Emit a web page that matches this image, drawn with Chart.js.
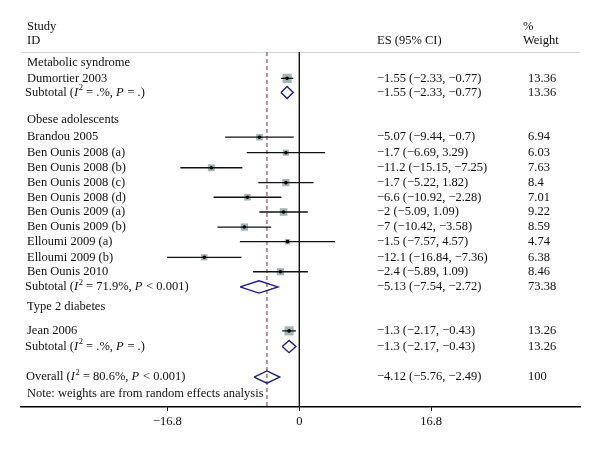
<!DOCTYPE html>
<html>
<head>
<meta charset="utf-8">
<script src="https://cdn.jsdelivr.net/npm/chart.js@4.4.1/dist/chart.umd.min.js"></script>
<style>
  html, body { margin: 0; padding: 0; background: #ffffff; }
  #wrap { width: 600px; height: 457px; }
</style>
</head>
<body>
<div id="wrap"><canvas id="c" width="600" height="457"></canvas></div>
<script>
// ---------- DATA ----------
const studyLabels = ["Dumortier 2003", "Brandou 2005", "Ben Ounis 2008 (a)", "Ben Ounis 2008 (b)",
  "Ben Ounis 2008 (c)", "Ben Ounis 2008 (d)", "Ben Ounis 2009 (a)", "Ben Ounis 2009 (b)",
  "Elloumi 2009 (a)", "Elloumi 2009 (b)", "Ben Ounis 2010", "Jean 2006"];
const studyES = [-1.55, -5.07, -1.7, -11.2, -1.7, -6.6, -2, -7, -1.5, -12.1, -2.4, -1.3];
const studyLo = [-2.33, -9.44, -6.69, -15.15, -5.22, -10.92, -5.09, -10.42, -7.57, -16.84, -5.89, -2.17];
const studyHi = [-0.77, -0.7, 3.29, -7.25, 1.82, -2.28, 1.09, -3.58, 4.57, -7.36, 1.09, -0.43];
const studyWeight = [13.36, 6.94, 6.03, 7.63, 8.4, 7.01, 9.22, 8.59, 4.74, 6.38, 8.46, 13.26];

const groupNames = ["Metabolic syndrome", "Obese adolescents", "Type 2 diabetes"];
const groupES = [-1.55, -5.13, -1.3];
const groupLo = [-2.33, -7.54, -2.17];
const groupHi = [-0.77, -2.72, -0.43];
const groupWeight = [13.36, 73.38, 13.26];
const groupI2 = [".", "71.9", "."];
const groupP = ["= .", "< 0.001", "= ."];

const overallES = -4.12, overallLo = -5.76, overallHi = -2.49, overallWeight = 100;
const overallI2 = "80.6", overallP = "< 0.001";
const noteText = "Note: weights are from random effects analysis";
const xTicks = [-16.8, 0, 16.8];

// ---------- LAYOUT (row positions, not data) ----------
const studyRows = [1.05, 5.0, 6.04, 7.05, 8.05, 9.03, 10.02, 11.03, 12.01, 13.06, 14.03, 18.0];
const groupHeaderRows = [0, 3.8, 16.4];
const groupSubRows = [2.0, 15.05, 19.05];
const overallRow = 21.1, noteRow = 22.2;
const yMin = -0.718, yMax = 23.107;
const xMin = -35.45, xMax = 35.76;
const DIA_H = 0.41;

const FONT = '12.5px "Liberation Serif", "DejaVu Serif", serif';
const FONT_I = 'italic 12.5px "Liberation Serif", "DejaVu Serif", serif';
const FONT_SUP = '8.5px "Liberation Serif", "DejaVu Serif", serif';
const TXT = '#111111';
const BOX = '#a2b4b4';
const NAVY = '#1e1e7e';
const DASH = '#a3566f';

const fmt = v => String(v).replace('-', '\u2212');
const esText = (e, l, h) => `${fmt(e)} (${fmt(l)}, ${fmt(h)})`;

// ---------- DATASETS ----------
const datasets = [];
datasets.push({ type: 'line', data: [{x: 0, y: yMin}, {x: 0, y: yMax}], borderColor: '#000', borderWidth: 1.3,
  pointRadius: 0, order: 5 });
datasets.push({ type: 'line', data: [{x: overallES, y: yMin}, {x: overallES, y: yMax}], borderColor: DASH,
  borderWidth: 1.3, borderDash: [4, 3], pointRadius: 0, order: 5 });
datasets.push({ type: 'line', data: [{x: xMin, y: yMin}, {x: xMax, y: yMin}], borderColor: '#bccaca',
  borderWidth: 1.5, pointRadius: 0, order: 5 });
// weight boxes (area proportional to weight)
datasets.push({ type: 'scatter', order: 3,
  data: studyES.map((v, i) => ({x: v, y: studyRows[i]})),
  pointStyle: 'rect', backgroundColor: BOX, borderColor: BOX, borderWidth: 0,
  pointRadius: c => 2.5 * Math.sqrt(studyWeight[c.dataIndex]) / Math.SQRT2 });
// CI lines
studyES.forEach((v, i) => {
  datasets.push({ type: 'line', order: 2, data: [{x: studyLo[i], y: studyRows[i]}, {x: studyHi[i], y: studyRows[i]}],
    borderColor: '#111', borderWidth: 1.3, pointRadius: 0 });
});
// centre dots
datasets.push({ type: 'scatter', order: 1,
  data: studyES.map((v, i) => ({x: v, y: studyRows[i]})),
  pointStyle: 'circle', backgroundColor: '#000', borderWidth: 0, pointRadius: 1.8 });
// diamonds
const diamond = (e, l, h, r) => ({ type: 'line', order: 1,
  data: [{x: l, y: r}, {x: e, y: r - DIA_H}, {x: h, y: r}, {x: e, y: r + DIA_H}, {x: l, y: r}],
  borderColor: NAVY, borderWidth: 1.4, pointRadius: 0, fill: false, tension: 0 });
groupES.forEach((e, i) => datasets.push(diamond(e, groupLo[i], groupHi[i], groupSubRows[i])));
datasets.push(diamond(overallES, overallLo, overallHi, overallRow));

// ---------- TEXT PLUGIN ----------
function drawRich(ctx, x, y, segs) {
  let cx = x;
  segs.forEach(s => {
    if (s.sup) {
      ctx.font = FONT_SUP;
      ctx.fillText(s.t, cx, y - 4.5);
    } else {
      ctx.font = s.it ? FONT_I : FONT;
      ctx.fillText(s.t, cx, y);
    }
    cx += ctx.measureText(s.t).width + (s.it ? 0.6 : 0);
  });
}
const hetSegs = (lead, i2, p) => [
  {t: lead + ' ('}, {t: 'I', it: true}, {t: '2', sup: true}, {t: ' = ' + i2 + '%, '},
  {t: 'P', it: true}, {t: ' ' + p + ')'}];

const textPlugin = {
  id: 'forestText',
  afterDraw(chart) {
    const ctx = chart.ctx;
    const py = r => chart.scales.y.getPixelForValue(r);
    ctx.save();
    ctx.fillStyle = TXT;
    ctx.textBaseline = 'middle';
    ctx.textAlign = 'left';
    ctx.font = FONT;
    ctx.fillText('Study', 27, 27);
    ctx.fillText('ID', 27, 41);
    ctx.fillText('ES (95% CI)', 377, 41);
    ctx.fillText('%', 523, 27);
    ctx.fillText('Weight', 523, 41);
    groupNames.forEach((g, i) => { ctx.font = FONT; ctx.fillText(g, 27, py(groupHeaderRows[i])); });
    studyLabels.forEach((s, i) => {
      const y = py(studyRows[i]);
      ctx.font = FONT;
      ctx.fillText(s, 27, y);
      ctx.fillText(esText(studyES[i], studyLo[i], studyHi[i]), 377, y);
      ctx.fillText(String(studyWeight[i]), 528, y);
    });
    groupES.forEach((e, i) => {
      const y = py(groupSubRows[i]);
      drawRich(ctx, 25, y, hetSegs('Subtotal', groupI2[i], groupP[i]));
      ctx.font = FONT;
      ctx.fillText(esText(e, groupLo[i], groupHi[i]), 377, y);
      ctx.fillText(String(groupWeight[i]), 528, y);
    });
    const yo = py(overallRow);
    drawRich(ctx, 26, yo, hetSegs('Overall', overallI2, overallP));
    ctx.font = FONT;
    ctx.fillText(esText(overallES, overallLo, overallHi), 377, yo);
    ctx.fillText(String(overallWeight), 528, yo);
    ctx.fillText(noteText, 27, py(noteRow));
    ctx.restore();
  }
};

new Chart(document.getElementById('c'), {
  type: 'scatter',
  data: { datasets },
  options: {
    responsive: false,
    animation: false,
    layout: { padding: { top: 52, left: 21, right: 20, bottom: 0 } },
    plugins: { legend: { display: false }, tooltip: { enabled: false } },
    scales: {
      x: {
        type: 'linear', min: xMin, max: xMax,
        afterBuildTicks: s => { s.ticks = xTicks.map(v => ({ value: v })); },
        afterFit: s => { s.height = 50; },
        grid: { drawOnChartArea: false, drawTicks: true, tickLength: 4, color: '#000', lineWidth: 1 },
        border: { display: true, color: '#000', width: 1.4 },
        ticks: { color: TXT, padding: 3, maxRotation: 0, autoSkip: false,
          font: { family: '"Liberation Serif", "DejaVu Serif", serif', size: 12.5 },
          callback: v => fmt(v) }
      },
      y: { type: 'linear', display: false, reverse: true, min: yMin, max: yMax }
    }
  },
  plugins: [textPlugin]
});
</script>
</body>
</html>
